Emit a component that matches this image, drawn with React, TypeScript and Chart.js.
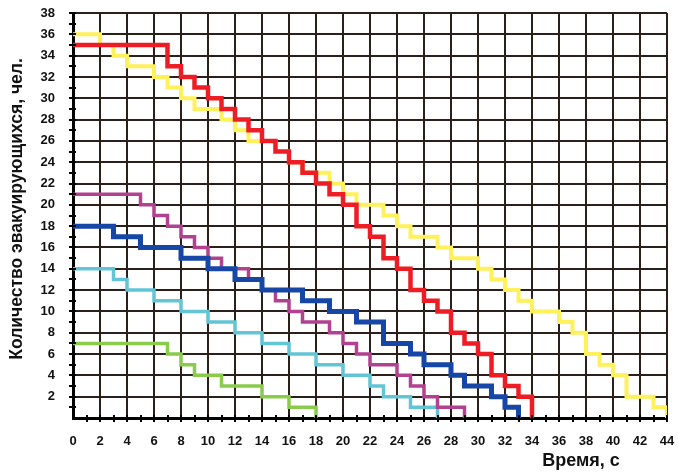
import React, { useEffect, useRef } from 'react';
import { Chart, registerables } from 'chart.js';

Chart.register(...registerables);

// Time (s) at which each step begins, and number of people evacuating from that time
const yellowT = [0, 2, 3, 4, 6, 7, 8, 9, 11, 12, 13, 15, 16, 17, 19, 20, 21, 23, 24, 25, 27, 28, 30, 31, 32, 33, 34, 36, 37, 38, 39, 40, 41, 43, 44];
const yellowV = [36, 35, 34, 33, 32, 31, 30, 29, 28, 27, 26, 25, 24, 23, 22, 21, 20, 19, 18, 17, 16, 15, 14, 13, 12, 11, 10, 9, 8, 6, 5, 4, 2, 1, 0];

const redT = [0, 7, 8, 9, 10, 11, 12, 13, 14, 15, 16, 17, 18, 19, 20, 21, 22, 23, 24, 25, 26, 27, 28, 29, 30, 31, 32, 33, 34];
const redV = [35, 33, 32, 31, 30, 29, 28, 27, 26, 25, 24, 23, 22, 21, 20, 18, 17, 15, 14, 12, 11, 10, 8, 7, 6, 4, 3, 2, 0];

const magentaT = [0, 5, 6, 7, 8, 9, 10, 11, 13, 14, 15, 16, 17, 19, 20, 21, 22, 24, 25, 26, 27, 29];
const magentaV = [21, 20, 19, 18, 17, 16, 15, 14, 13, 12, 11, 10, 9, 8, 7, 6, 5, 4, 3, 2, 1, 0];

const blueT = [0, 3, 5, 8, 10, 12, 14, 17, 19, 21, 23, 25, 26, 28, 29, 31, 32, 33];
const blueV = [18, 17, 16, 15, 14, 13, 12, 11, 10, 9, 7, 6, 5, 4, 3, 2, 1, 0];

const cyanT = [0, 3, 4, 6, 8, 10, 12, 14, 16, 18, 20, 22, 23, 25, 27];
const cyanV = [14, 13, 12, 11, 10, 9, 8, 7, 6, 5, 4, 3, 2, 1, 0];

const greenT = [0, 7, 8, 9, 11, 14, 16, 18];
const greenV = [7, 6, 5, 4, 3, 2, 1, 0];

const X_MIN = 0;
const X_MAX = 44;
const Y_MIN = 0;
const Y_MAX = 38;

const X_TITLE = 'Время, с';
const Y_TITLE = 'Количество эвакуирующихся, чел.';

const FONT_FAMILY = '"Liberation Sans", Arial, Helvetica, sans-serif';
const GRID_COLOR = '#2a2019';

export default function App() {
  const ref = useRef<HTMLCanvasElement>(null);

  useEffect(() => {
    document.body.style.margin = '0';
    const canvas = ref.current;
    if (!canvas) return;

    const pts = (T: number[], V: number[]) => T.map((t, i) => ({ x: t, y: V[i] }));
    const ds = (label: string, T: number[], V: number[], color: string, w: number) => ({
      label,
      data: pts(T, V),
      borderColor: color,
      backgroundColor: color,
      borderWidth: w,
      stepped: true as const,
      pointRadius: 0,
      pointHoverRadius: 0,
      fill: false,
      tension: 0,
      borderJoinStyle: 'miter' as const,
      borderCapStyle: 'butt' as const,
    });

    const tickFont = { family: FONT_FAMILY, weight: 'bold' as const, size: 13 };

    const decor = {
      id: 'decor',
      beforeDraw(chart: any) {
        const c = chart.ctx;
        c.save();
        c.fillStyle = '#ffffff';
        c.fillRect(0, 0, chart.width, chart.height);
        c.restore();
      },
      afterDraw(chart: any) {
        const c = chart.ctx;
        const xs = chart.scales.x;
        const ys = chart.scales.y;
        const area = chart.chartArea;
        c.save();
        c.strokeStyle = '#000';
        c.lineWidth = 2;
        for (let v = X_MIN + 1; v <= X_MAX; v++) {
          const px = Math.round(xs.getPixelForValue(v));
          c.beginPath();
          c.moveTo(px, area.bottom - 3);
          c.lineTo(px, area.bottom + 4);
          c.stroke();
        }
        for (let v = Y_MIN + 1; v <= Y_MAX; v++) {
          const py = Math.round(ys.getPixelForValue(v));
          c.beginPath();
          c.moveTo(area.left - 4, py);
          c.lineTo(area.left + 3, py);
          c.stroke();
        }
        c.fillStyle = '#111';
        c.textAlign = 'center';
        c.textBaseline = 'middle';
        c.font = `bold 18px ${FONT_FAMILY}`;
        c.fillText(X_TITLE, 581, 461);
        c.translate(17, 209);
        c.rotate(-Math.PI / 2);
        c.font = `bold 17.5px ${FONT_FAMILY}`;
        c.fillText(Y_TITLE, 0, 0);
        c.restore();
      },
    };

    const chart = new Chart(canvas, {
      type: 'line',
      data: {
        datasets: [
          ds('red', redT, redV, '#ee1c24', 4.5),
          ds('blue', blueT, blueV, '#1747a6', 5),
          ds('magenta', magentaT, magentaV, '#b2418f', 3.5),
          ds('cyan', cyanT, cyanV, '#62c5d5', 3.5),
          ds('green', greenT, greenV, '#8acb4c', 3.5),
          ds('yellow', yellowT, yellowV, '#fff15a', 4),
        ],
      },
      options: {
        responsive: false,
        animation: false,
        events: [],
        layout: { padding: { left: 0, right: 11, top: 13, bottom: 0 } },
        plugins: {
          legend: { display: false },
          tooltip: { enabled: false },
        },
        scales: {
          x: {
            type: 'linear',
            min: X_MIN,
            max: X_MAX,
            afterFit: (s: any) => {
              s.height = 55;
              s.paddingLeft = 0;
              s.paddingRight = 0;
              s.paddingTop = 0;
              s.paddingBottom = 0;
            },
            ticks: {
              stepSize: 1,
              autoSkip: false,
              maxRotation: 0,
              minRotation: 0,
              padding: 16,
              color: '#111',
              font: tickFont,
              callback: (v: any) => (Number(v) % 2 === 0 ? String(v) : ''),
            },
            grid: {
              color: (ctx: any) =>
                ctx.tick && Number(ctx.tick.value) % 2 === 0 ? GRID_COLOR : 'rgba(0,0,0,0)',
              lineWidth: 2,
              drawTicks: false,
            },
            border: { color: '#000', width: 3 },
          },
          y: {
            type: 'linear',
            min: Y_MIN,
            max: Y_MAX,
            afterFit: (s: any) => {
              s.width = 73;
              s.paddingLeft = 0;
              s.paddingRight = 0;
              s.paddingTop = 0;
              s.paddingBottom = 0;
            },
            ticks: {
              stepSize: 1,
              autoSkip: false,
              padding: 18,
              color: '#111',
              font: tickFont,
              callback: (v: any) => (Number(v) !== 0 && Number(v) % 2 === 0 ? String(v) : ''),
            },
            grid: {
              color: (ctx: any) =>
                ctx.tick && Number(ctx.tick.value) % 2 === 0 ? GRID_COLOR : 'rgba(0,0,0,0)',
              lineWidth: 2,
              drawTicks: false,
            },
            border: { color: '#000', width: 3 },
          },
        },
      },
      plugins: [decor],
    } as any);

    return () => chart.destroy();
  }, []);

  return (
    <div style={{ width: 678, height: 473, position: 'relative' }}>
      <canvas ref={ref} width={678} height={473} style={{ display: 'block' }} />
    </div>
  );
}
